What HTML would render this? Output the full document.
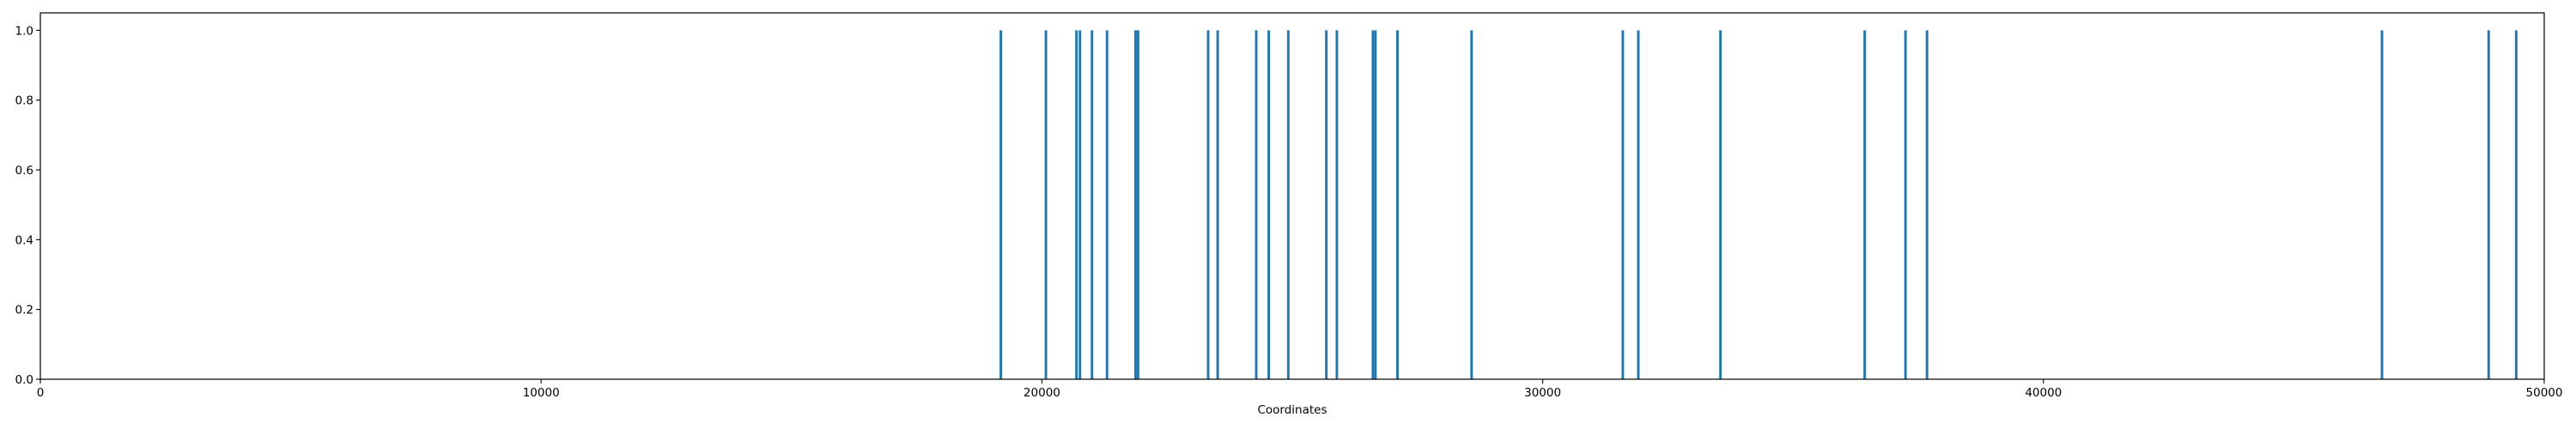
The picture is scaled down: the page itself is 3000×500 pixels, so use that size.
<!DOCTYPE html>
<html><head><meta charset="utf-8"><style>
html,body{margin:0;padding:0;background:#fff;}
svg{display:block;font-family:"DejaVu Sans","Liberation Sans",sans-serif;}
</style></head><body>
<svg id="chart" width="3000" height="500" xmlns="http://www.w3.org/2000/svg">
<g id="bars"></g>
<g id="axes"></g>
</svg>
<script>
const coords = [19180,20080,20690,20760,21000,21300,21870,21920,23320,23510,24280,24530,24920,25680,25890,26610,26660,27100,28580,31600,31910,33550,36430,37245,37675,46760,48890,49440];
const heights = [1,1,1,1,1,1,1,1,1,1,1,1,1,1,1,1,1,1,1,1,1,1,1,1,1,1,1,1];
const xTicks = [0,10000,20000,30000,40000,50000];
const yTicks = [0.0,0.2,0.4,0.6,0.8,1.0];
const yTickLabels = ["0.0","0.2","0.4","0.6","0.8","1.0"];
const barWidth = 50;

const L=47,R=2963,T=15,B=442;
const xMin=0,xMax=50000,yMin=0,yMax=1.05;
const sx=v=>L+(v-xMin)/(xMax-xMin)*(R-L);
const sy=v=>B-(v-yMin)/(yMax-yMin)*(B-T);
const NS="http://www.w3.org/2000/svg";
function mk(tag,attrs,parent){const e=document.createElementNS(NS,tag);for(const k in attrs)e.setAttribute(k,attrs[k]);parent.appendChild(e);return e;}
const bars=document.getElementById('bars');
coords.forEach((c,i)=>{
  const x0=sx(c-barWidth/2),x1=sx(c+barWidth/2);
  const r=mk('rect',{x:x0,y:sy(heights[i]),width:Math.max(x1-x0,1.5),height:sy(0)-sy(heights[i]),fill:'#1f77b4'},bars);
  
  
});
const ax=document.getElementById('axes');
const frame=mk('rect',{x:L,y:T,width:R-L,height:B-T,fill:'none',stroke:'#000','stroke-width':1.2},ax);


xTicks.forEach(t=>{
  const x=sx(t);
  const tk=mk('line',{x1:x,x2:x,y1:B,y2:B+5,stroke:'#000','stroke-width':1.1},ax);
  
  
  const tx=mk('text',{x:x,y:B+20,'text-anchor':'middle','font-size':13.5,fill:'#000'},ax);
  tx.textContent=String(t);
  
  
});
yTicks.forEach((t,i)=>{
  const y=sy(t);
  const tk=mk('line',{x1:L-5,x2:L,y1:y,y2:y,stroke:'#000','stroke-width':1.1},ax);
  
  
  const tx=mk('text',{x:L-8,y:y+5,'text-anchor':'end','font-size':13.5,fill:'#000'},ax);
  tx.textContent=yTickLabels[i];
  
  
});
const xl=mk('text',{x:(L+R)/2,y:482,'text-anchor':'middle','font-size':13.5,fill:'#000'},ax);
xl.textContent='Coordinates';


</script>
</body></html>
